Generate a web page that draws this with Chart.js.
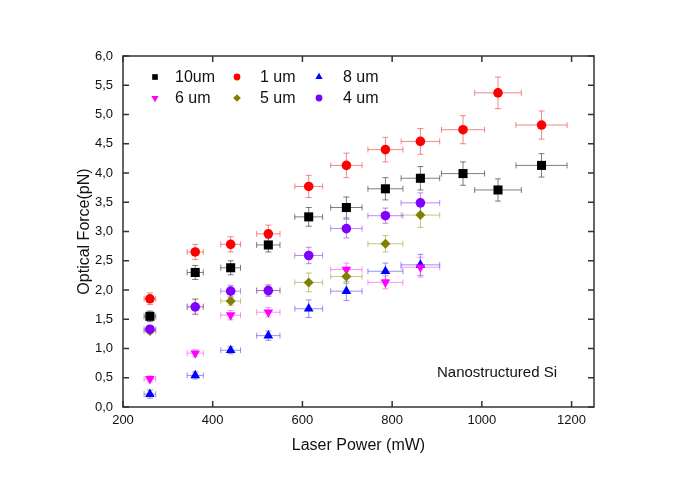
<!DOCTYPE html>
<html>
<head>
<meta charset="utf-8">
<script src="https://cdn.jsdelivr.net/npm/chart.js@4.4.1/dist/chart.umd.min.js"></script>
<style>
  html, body { margin: 0; padding: 0; background: #fff; }
</style>
</head>
<body>
<canvas id="forceChart" width="690" height="488"></canvas>
<script>
// laser power (mW) and its error, shared by all series
const power = [260, 361, 440, 524, 614, 698, 785, 863, 958, 1036, 1133];
const powerErr = [13, 18, 22, 26, 31, 35, 39, 43, 48, 52, 57];

// optical force (pN) per particle size
const f10um = [1.55, 2.30, 2.38, 2.77, 3.25, 3.41, 3.73, 3.91, 3.99, 3.71, 4.13];
const f10umErr = [0.09, 0.12, 0.12, 0.12, 0.16, 0.18, 0.19, 0.20, 0.20, 0.19, 0.20];
const f1um = [1.85, 2.65, 2.78, 2.96, 3.77, 4.13, 4.40, 4.54, 4.74, 5.37, 4.82];
const f1umErr = [0.10, 0.13, 0.13, 0.15, 0.19, 0.21, 0.21, 0.22, 0.24, 0.27, 0.24];
const f8um = [0.22, 0.54, 0.97, 1.22, 1.68, 1.98, 2.32, 2.43];
const f8umErr = [0.07, 0.06, 0.06, 0.08, 0.15, 0.16, 0.14, 0.18];
const f6um = [0.48, 0.92, 1.57, 1.62, null, 2.35, 2.13, 2.39];
const f6umErr = [0.05, 0.06, 0.08, 0.08, null, 0.11, 0.11, 0.17];
const f5um = [1.30, 1.72, 1.81, 1.99, 2.13, 2.23, 2.79, 3.28];
const f5umErr = [0.04, 0.13, 0.07, 0.08, 0.16, 0.12, 0.14, 0.21];
const f4um = [1.33, 1.71, 1.98, 1.99, 2.59, 3.05, 3.27, 3.49];
const f4umErr = [0.06, 0.13, 0.10, 0.10, 0.14, 0.16, 0.13, 0.17];

const xTicks = [200, 400, 600, 800, 1000, 1200];
const xTickLabels = ['200', '400', '600', '800', '1000', '1200'];
const yTicks = [0, 0.5, 1, 1.5, 2, 2.5, 3, 3.5, 4, 4.5, 5, 5.5, 6];
const yTickLabels = ['0,0', '0,5', '1,0', '1,5', '2,0', '2,5', '3,0', '3,5', '4,0', '4,5', '5,0', '5,5', '6,0'];

const FONT = '"Liberation Sans", Arial, sans-serif';
Chart.defaults.font.family = FONT;
Chart.defaults.color = '#111';

function points(vals, errs) {
  const out = [];
  vals.forEach((v, i) => {
    if (v == null) return;
    out.push({ x: power[i], y: v, xErr: powerErr[i], yErr: errs[i] });
  });
  return out;
}

// error bars drawn under the markers
const errorBars = {
  id: 'errorBars',
  beforeDatasetsDraw(chart) {
    const { ctx, scales: { x, y } } = chart;
    const cap = 3;
    ctx.save();
    ctx.lineWidth = 1;
    chart.data.datasets.forEach(ds => {
      ctx.strokeStyle = ds.errorColor;
      ds.data.forEach(p => {
        const px = x.getPixelForValue(p.x), py = y.getPixelForValue(p.y);
        const xl = x.getPixelForValue(p.x - p.xErr), xr = x.getPixelForValue(p.x + p.xErr);
        const yt = y.getPixelForValue(p.y + p.yErr), yb = y.getPixelForValue(p.y - p.yErr);
        ctx.beginPath();
        ctx.moveTo(xl, py); ctx.lineTo(xr, py);
        ctx.moveTo(xl, py - cap); ctx.lineTo(xl, py + cap);
        ctx.moveTo(xr, py - cap); ctx.lineTo(xr, py + cap);
        ctx.moveTo(px, yt); ctx.lineTo(px, yb);
        ctx.moveTo(px - cap, yt); ctx.lineTo(px + cap, yt);
        ctx.moveTo(px - cap, yb); ctx.lineTo(px + cap, yb);
        ctx.stroke();
      });
    });
    ctx.restore();
  }
};

// box frame with inward ticks on all four sides, legend and note
const frame = {
  id: 'frame',
  afterDraw(chart) {
    const { ctx, chartArea: a, scales: { x, y } } = chart;
    const tl = 6;
    ctx.save();
    ctx.strokeStyle = '#333';
    ctx.lineWidth = 1.5;
    ctx.strokeRect(a.left, a.top, a.right - a.left, a.bottom - a.top);
    ctx.beginPath();
    xTicks.forEach(v => {
      const px = x.getPixelForValue(v);
      ctx.moveTo(px, a.bottom); ctx.lineTo(px, a.bottom - tl);
      ctx.moveTo(px, a.top); ctx.lineTo(px, a.top + tl);
    });
    yTicks.forEach(v => {
      const py = y.getPixelForValue(v);
      ctx.moveTo(a.left, py); ctx.lineTo(a.left + tl, py);
      ctx.moveTo(a.right, py); ctx.lineTo(a.right - tl, py);
    });
    ctx.stroke();

    // legend, two rows of three
    const colX = [155, 237, 319];
    const textX = [175, 260, 343];
    const rowY = [77, 98];
    ctx.font = '16px ' + FONT;
    ctx.textBaseline = 'middle';
    ctx.textAlign = 'left';
    chart.data.datasets.forEach((ds, i) => {
      const c = i % 3, r = Math.floor(i / 3);
      ctx.fillStyle = ds.backgroundColor;
      Chart.helpers.drawPoint(ctx, {
        pointStyle: ds.pointStyle, radius: ds.legendRadius,
        rotation: ds.rotation || 0, borderWidth: 0
      }, colX[c], rowY[r]);
      ctx.fillStyle = '#111';
      ctx.fillText(ds.label, textX[c], rowY[r] + 1);
    });

    ctx.font = '15px ' + FONT;
    ctx.fillText('Nanostructured Si', 437, 373);
    ctx.restore();
  }
};

const series = [
  { label: '10um', data: points(f10um, f10umErr), color: '#000000', err: 'rgba(0,0,0,0.5)', style: 'rect', r: 6.4, lr: 4, order: 6 },
  { label: '1 um', data: points(f1um, f1umErr), color: '#ff0000', err: 'rgba(230,60,60,0.6)', style: 'circle', r: 4.8, lr: 3.4, order: 5 },
  { label: '8 um', data: points(f8um, f8umErr), color: '#0000ff', err: 'rgba(60,60,230,0.55)', style: 'triangle', r: 5.6, lr: 4.2, order: 4 },
  { label: '6 um', data: points(f6um, f6umErr), color: '#ff00ff', err: 'rgba(240,60,240,0.55)', style: 'triangle', rot: 180, r: 5.6, lr: 4.2, order: 3 },
  { label: '5 um', data: points(f5um, f5umErr), color: '#808000', err: 'rgba(150,150,40,0.55)', style: 'rectRot', r: 5, lr: 3.8, order: 2 },
  { label: '4 um', data: points(f4um, f4umErr), color: '#8000ff', err: 'rgba(140,40,240,0.55)', style: 'circle', r: 4.8, lr: 3.4, order: 1 }
];

new Chart(document.getElementById('forceChart'), {
  type: 'scatter',
  data: {
    datasets: series.map(s => ({
      label: s.label,
      data: s.data,
      backgroundColor: s.color,
      borderColor: s.color,
      borderWidth: 0,
      pointStyle: s.style,
      rotation: s.rot || 0,
      pointRadius: s.r,
      pointHoverRadius: s.r,
      pointBorderWidth: 0,
      legendRadius: s.lr,
      errorColor: s.err,
      order: s.order
    }))
  },
  options: {
    responsive: false,
    animation: false,
    layout: { padding: { left: 0, top: 56, right: 96, bottom: 0 } },
    plugins: { legend: { display: false }, tooltip: { enabled: false } },
    scales: {
      x: {
        type: 'linear', min: 200, max: 1250,
        afterBuildTicks: s => { s.ticks = xTicks.map(v => ({ value: v })); },
        afterFit: s => { s.height = 81; },
        grid: { display: false, drawTicks: false },
        border: { display: false },
        ticks: {
          font: { size: 13 }, padding: 6, maxRotation: 0, autoSkip: false,
          callback: (v, i) => xTickLabels[i]
        },
        title: { display: true, text: 'Laser Power (mW)', font: { size: 16 }, padding: { top: 0, bottom: 33 } }
      },
      y: {
        type: 'linear', min: 0, max: 6,
        afterBuildTicks: s => { s.ticks = yTicks.map(v => ({ value: v })); },
        afterFit: s => { s.width = 123; },
        grid: { display: false, drawTicks: false },
        border: { display: false },
        ticks: {
          font: { size: 13 }, padding: 10, autoSkip: false,
          callback: (v, i) => yTickLabels[i]
        },
        title: { display: true, text: 'Optical Force(pN)', font: { size: 16 }, padding: { top: 75, bottom: 0 } }
      }
    }
  },
  plugins: [errorBars, frame]
});
</script>
</body>
</html>
